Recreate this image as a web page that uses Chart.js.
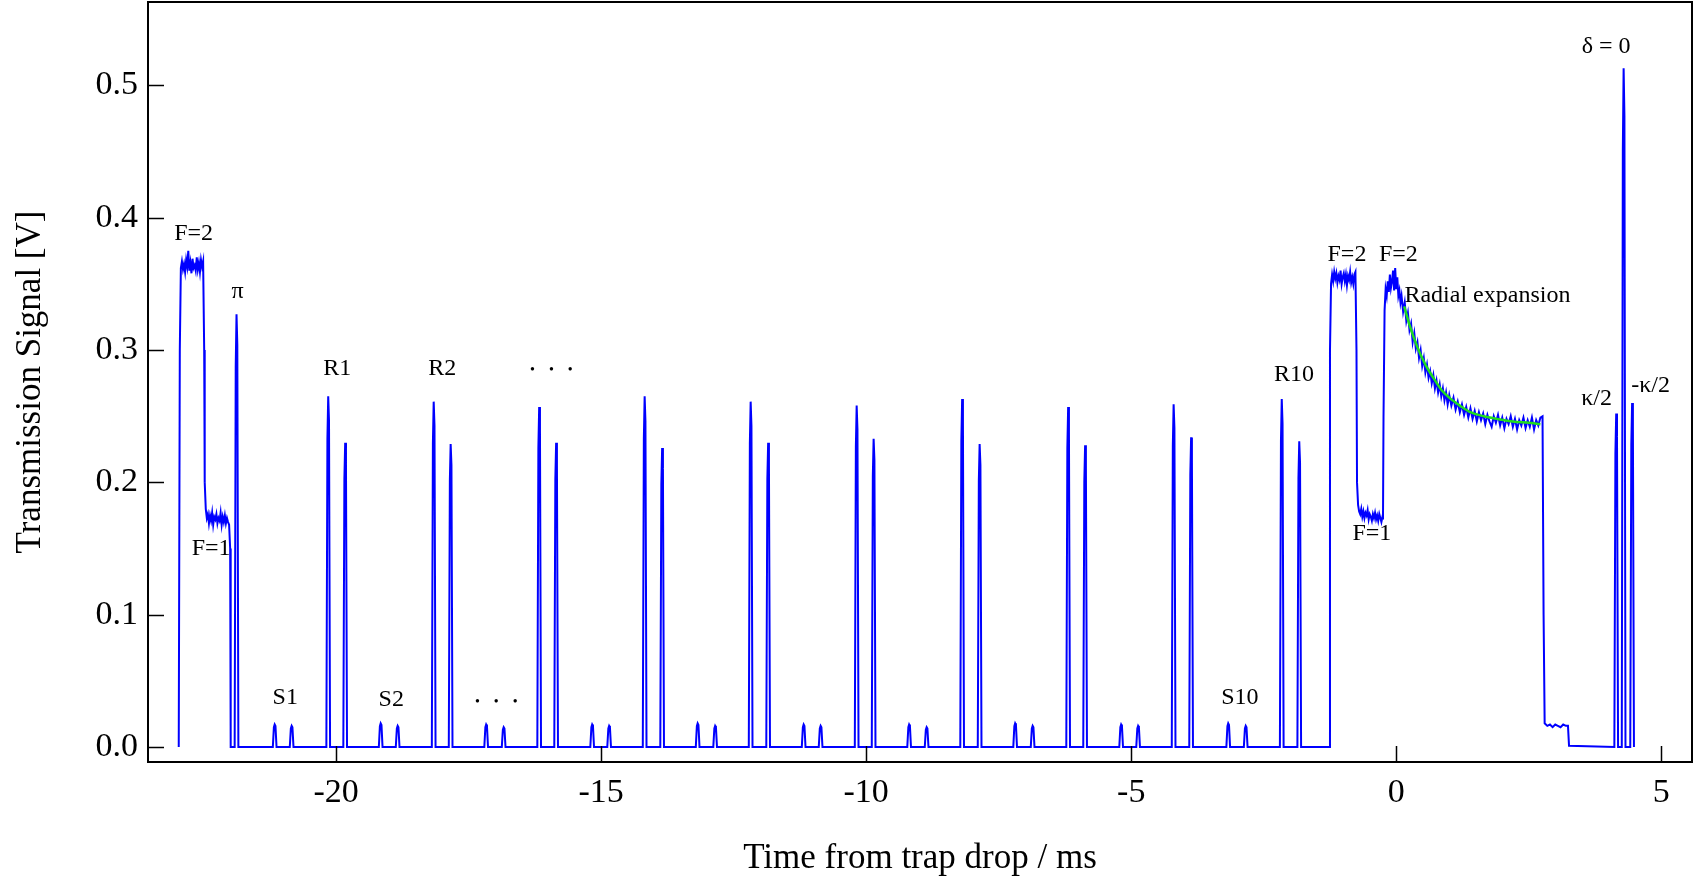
<!DOCTYPE html>
<html>
<head>
<meta charset="utf-8">
<title>Transmission signal vs time from trap drop</title>
<script src="https://cdn.jsdelivr.net/npm/chart.js@4.4.1/dist/chart.umd.min.js"></script>
<style>
    html, body { margin: 0; padding: 0; background: #fff; }
    #wrap { width: 1695px; height: 880px; }
</style>
</head>
<body>
<div id="wrap"><canvas id="signalChart"></canvas></div>
<script>
// axis ranges and ticks
var xMin = -23.55, xMax = 5.58;
var yMin = -0.0113, yMax = 0.563;
var xTickValues = [-20, -15, -10, -5, 0, 5];
var yTickValues = [0.0, 0.1, 0.2, 0.3, 0.4, 0.5];

var baseline = 0.0;

// first state detection: F=2 then F=1 plateau (noise included)
var block1Times = [-22.97, -22.95, -22.93, -22.91, -22.89, -22.87, -22.85, -22.83, -22.81, -22.79,
    -22.77, -22.75, -22.73, -22.71, -22.69, -22.67, -22.65, -22.63, -22.61, -22.59,
    -22.57, -22.55, -22.53, -22.51, -22.49, -22.48, -22.46, -22.44, -22.42, -22.40,
    -22.38, -22.36, -22.34, -22.32, -22.30, -22.28, -22.26, -22.24, -22.22, -22.20,
    -22.18, -22.16, -22.14, -22.12, -22.10, -22.08, -22.06, -22.04, -22.02, -22.00, -21.99];
var block1Signal = [0.000, 0.300, 0.362, 0.367, 0.361, 0.365, 0.359, 0.368, 0.363, 0.375,
    0.360, 0.366, 0.358, 0.369, 0.362, 0.364, 0.360, 0.370, 0.361, 0.366,
    0.359, 0.368, 0.363, 0.367, 0.300, 0.200, 0.180, 0.173, 0.176, 0.169,
    0.175, 0.171, 0.177, 0.168, 0.174, 0.172, 0.176, 0.169, 0.173, 0.171,
    0.177, 0.168, 0.174, 0.170, 0.175, 0.169, 0.173, 0.170, 0.168, 0.150, 0.000];

// pi pulse
var piTimes = [-21.88];
var piHeights = [0.327];

// S peaks, pairs S1..S10
var sTimes = [-21.16, -20.84, -19.16, -18.84, -17.17, -16.84, -15.17, -14.85, -13.18, -12.85,
    -11.18, -10.86, -9.19, -8.86, -7.19, -6.86, -5.19, -4.87, -3.17, -2.84];
var sHeights = [0.017, 0.016, 0.018, 0.016, 0.017, 0.015, 0.017, 0.016, 0.018, 0.016,
    0.017, 0.016, 0.017, 0.015, 0.018, 0.016, 0.017, 0.016, 0.018, 0.016];

// R peaks, pairs R1..R10
var rTimes = [-20.15, -19.83, -18.16, -17.84, -16.17, -15.85, -14.18, -13.85, -12.18, -11.85,
    -10.18, -9.86, -8.19, -7.86, -6.19, -5.87, -4.20, -3.87, -2.16, -1.83];
var rHeights = [0.265, 0.230, 0.261, 0.229, 0.257, 0.230, 0.265, 0.226, 0.261, 0.230,
    0.258, 0.233, 0.263, 0.229, 0.257, 0.228, 0.259, 0.234, 0.263, 0.231];

// second detection, F=1, then trap drop and radial expansion
var block2Times = [-1.26, -1.25, -1.23, -1.21, -1.19, -1.17, -1.15, -1.13, -1.11, -1.09,
    -1.07, -1.05, -1.03, -1.01, -0.99, -0.97, -0.95, -0.93, -0.91, -0.89,
    -0.87, -0.85, -0.83, -0.81, -0.79, -0.77, -0.75, -0.74, -0.72, -0.70,
    -0.68, -0.66, -0.64, -0.62, -0.60, -0.58, -0.56, -0.54, -0.52, -0.50,
    -0.48, -0.46, -0.44, -0.42, -0.40, -0.38, -0.36, -0.34, -0.32, -0.30,
    -0.28, -0.26, -0.25, -0.24, -0.22, -0.20, -0.18, -0.16, -0.14, -0.12,
    -0.10, -0.08, -0.06, -0.04, -0.02, 0.00, 0.02, 0.04, 0.06, 0.08,
    0.10, 0.13, 0.16, 0.19, 0.22, 0.25, 0.28, 0.31, 0.34, 0.37,
    0.40, 0.43, 0.46, 0.49, 0.52, 0.55, 0.58, 0.61, 0.64, 0.67,
    0.70, 0.73, 0.76, 0.79, 0.82, 0.85, 0.88, 0.91, 0.94, 0.97,
    1.00, 1.04, 1.08, 1.12, 1.16, 1.20, 1.24, 1.28, 1.32, 1.36,
    1.40, 1.44, 1.48, 1.52, 1.56, 1.60, 1.64, 1.68, 1.72, 1.76,
    1.80, 1.84, 1.88, 1.92, 1.96, 2.00, 2.04, 2.08, 2.12, 2.16,
    2.20, 2.24, 2.28, 2.32, 2.36, 2.40, 2.44, 2.48, 2.52, 2.56,
    2.60, 2.64, 2.68, 2.72, 2.76, 2.78, 2.80, 2.85, 2.90, 2.95,
    3.00, 3.05, 3.10, 3.15, 3.20, 3.24, 3.26];
var block2Signal = [0.000, 0.300, 0.350, 0.357, 0.352, 0.359, 0.354, 0.358, 0.351, 0.356,
    0.353, 0.360, 0.350, 0.355, 0.358, 0.352, 0.357, 0.349, 0.356, 0.353,
    0.359, 0.351, 0.355, 0.350, 0.357, 0.359, 0.300, 0.200, 0.183, 0.178,
    0.176, 0.180, 0.174, 0.178, 0.173, 0.177, 0.175, 0.179, 0.172, 0.176,
    0.174, 0.171, 0.176, 0.173, 0.177, 0.172, 0.175, 0.171, 0.176, 0.173,
    0.170, 0.174, 0.172, 0.250, 0.330, 0.346, 0.341, 0.352, 0.344, 0.357,
    0.347, 0.352, 0.360, 0.345, 0.362, 0.346, 0.355, 0.341, 0.345, 0.336,
    0.341, 0.329, 0.336, 0.322, 0.328, 0.315, 0.320, 0.306, 0.313, 0.301,
    0.306, 0.294, 0.300, 0.288, 0.294, 0.283, 0.289, 0.279, 0.284, 0.275,
    0.281, 0.271, 0.277, 0.268, 0.274, 0.265, 0.271, 0.262, 0.268, 0.259,
    0.266, 0.258, 0.264, 0.255, 0.261, 0.253, 0.259, 0.251, 0.257, 0.249,
    0.256, 0.248, 0.254, 0.246, 0.253, 0.247, 0.252, 0.244, 0.251, 0.246,
    0.242, 0.250, 0.245, 0.251, 0.243, 0.249, 0.241, 0.248, 0.244, 0.250,
    0.242, 0.248, 0.240, 0.247, 0.243, 0.249, 0.241, 0.247, 0.242, 0.249,
    0.240, 0.247, 0.243, 0.249, 0.250, 0.100, 0.018, 0.016, 0.017, 0.015,
    0.017, 0.016, 0.015, 0.017, 0.016, 0.016, 0.001];

// probe peaks: kappa/2, delta=0, -kappa/2
var probeTimes = [4.15, 4.29, 4.45];
var probeHeights = [0.252, 0.513, 0.260];

// exponential fit to the radial expansion
var fitTimes = [0.15, 0.25, 0.40, 0.55, 0.70, 0.85, 1.00, 1.20, 1.40, 1.65, 1.90, 2.20, 2.50, 2.72];
var fitValues = [0.333, 0.319, 0.302, 0.289, 0.279, 0.270, 0.264, 0.258, 0.253, 0.250, 0.248, 0.246, 0.245, 0.244];

// text labels on the trace
var dots = "\u2022\u2003\u2022\u2003\u2022";
var labelText = ["F=2", "\u03c0", "F=1", "S1", "R1", "S2", "R2", dots, dots, "S10", "R10",
    "F=2", "F=2", "F=1", "Radial expansion", "\u03ba/2", "-\u03ba/2", "\u03b4 = 0"];
var labelX = [-22.69, -21.86, -22.36, -20.96, -19.98, -18.96, -18.0, -16.98, -15.94, -2.95, -1.93,
    -0.93, 0.04, -0.46, 1.72, 3.78, 4.80, 3.96];
var labelY = [0.388, 0.344, 0.150, 0.0376, 0.286, 0.0359, 0.286, 0.034, 0.285, 0.0376, 0.281,
    0.372, 0.372, 0.161, 0.341, 0.263, 0.273, 0.529];

// shape of one narrow peak (offset in ms, fraction of height)
var spikeOffsets = [-0.035, -0.015, 0, 0.015, 0.035];
var spikeShape = [0, 0.88, 1, 0.93, 0];

var serif = '"Liberation Serif", "Times New Roman", serif';

function pairsToPoints(times, values) {
    var pts = [];
    for (var i = 0; i < times.length; i++) {
        pts.push({ x: times[i], y: values[i] });
    }
    return pts;
}

function spikePoints(times, heights) {
    var pts = [];
    for (var i = 0; i < times.length; i++) {
        for (var k = 0; k < spikeOffsets.length; k++) {
            pts.push({ x: times[i] + spikeOffsets[k], y: baseline + (heights[i] - baseline) * spikeShape[k] });
        }
    }
    return pts;
}

var trace = []
    .concat(pairsToPoints(block1Times, block1Signal))
    .concat(spikePoints(piTimes, piHeights))
    .concat(spikePoints(sTimes, sHeights))
    .concat(spikePoints(rTimes, rHeights))
    .concat(pairsToPoints(block2Times, block2Signal))
    .concat(spikePoints(probeTimes, probeHeights));
trace.sort(function (a, b) { return a.x - b.x; });

// frame, inward ticks and peak labels
var framePlugin = {
    id: "frameAndLabels",
    afterDraw: function (chart) {
        var ctx = chart.ctx;
        var area = chart.chartArea;
        var xs = chart.scales.x, ys = chart.scales.y;
        var tickLen = 16;
        ctx.save();
        ctx.strokeStyle = "#000";
        ctx.lineWidth = 2;
        ctx.strokeRect(area.left, area.top, area.right - area.left, area.bottom - area.top);
        ctx.beginPath();
        xTickValues.forEach(function (v) {
            var px = Math.round(xs.getPixelForValue(v)) + 0.5;
            ctx.moveTo(px, area.bottom);
            ctx.lineTo(px, area.bottom - tickLen);
        });
        yTickValues.forEach(function (v) {
            var py = Math.round(ys.getPixelForValue(v)) + 0.5;
            ctx.moveTo(area.left, py);
            ctx.lineTo(area.left + tickLen, py);
        });
        ctx.lineWidth = 1.5;
        ctx.stroke();

        ctx.fillStyle = "#000";
        ctx.textAlign = "center";
        ctx.textBaseline = "middle";
        for (var i = 0; i < labelText.length; i++) {
            // the ellipsis dots are set smaller, with wide gaps
            ctx.font = (labelText[i] === dots ? "14px " : "24px ") + serif;
            ctx.fillText(labelText[i], xs.getPixelForValue(labelX[i]), ys.getPixelForValue(labelY[i]));
        }
        ctx.restore();
    }
};

var ctx = document.getElementById("signalChart").getContext("2d");
new Chart(ctx, {
    type: "line",
    data: {
        datasets: [{
            label: "Fit",
            data: pairsToPoints(fitTimes, fitValues),
            borderColor: "#1fdc1f",
            borderWidth: 2.5,
            pointRadius: 0,
            cubicInterpolationMode: "monotone",
            fill: false
        }, {
            label: "Transmission",
            data: trace,
            borderColor: "#0000ff",
            borderWidth: 2,
            pointRadius: 0,
            tension: 0,
            fill: false
        }]
    },
    options: {
        responsive: true,
        maintainAspectRatio: false,
        animation: false,
        layout: { padding: { top: 2, right: 3, left: 0, bottom: 0 } },
        plugins: {
            legend: { display: false },
            tooltip: { enabled: false }
        },
        scales: {
            x: {
                type: "linear",
                min: xMin,
                max: xMax,
                afterBuildTicks: function (axis) {
                    axis.ticks = xTickValues.map(function (v) { return { value: v }; });
                },
                afterFit: function (axis) {
                    axis.height = 118;
                    axis.paddingLeft = 0;
                    axis.paddingRight = 0;
                },
                grid: { display: false, drawTicks: false },
                border: { display: false },
                ticks: {
                    color: "#000",
                    font: { family: serif, size: 34 },
                    padding: 11,
                    maxRotation: 0,
                    callback: function (v) { return String(v); }
                },
                title: {
                    display: true,
                    text: "Time from trap drop / ms",
                    color: "#000",
                    font: { family: serif, size: 35 },
                    padding: { top: 0, bottom: 0 }
                }
            },
            y: {
                type: "linear",
                min: yMin,
                max: yMax,
                afterBuildTicks: function (axis) {
                    axis.ticks = yTickValues.map(function (v) { return { value: v }; });
                },
                afterFit: function (axis) {
                    axis.width = 148;
                    axis.paddingTop = 0;
                    axis.paddingBottom = 0;
                },
                grid: { display: false, drawTicks: false },
                border: { display: false },
                ticks: {
                    color: "#000",
                    font: { family: serif, size: 34 },
                    padding: 10,
                    callback: function (v) { return Number(v).toFixed(1); }
                },
                title: {
                    display: true,
                    text: "Transmission Signal [V]",
                    color: "#000",
                    font: { family: serif, size: 35 },
                    padding: { top: 10, bottom: 0 }
                }
            }
        }
    },
    plugins: [framePlugin]
});
</script>
</body>
</html>
